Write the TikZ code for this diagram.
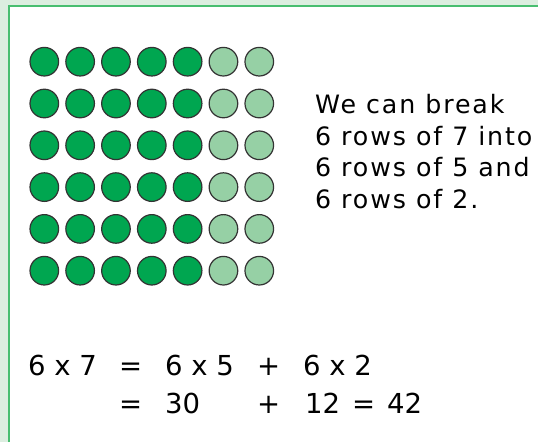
\documentclass[tikz,border=0pt]{standalone}
\usepackage{fontspec}
\setmainfont{DejaVu Sans}
\newfontfamily\paratext[LetterSpace=7.5]{DejaVu Sans}
\usetikzlibrary{positioning}
\definecolor{dotdark}{RGB}{0,166,80}
\definecolor{dotlight}{RGB}{150,208,165}
\definecolor{paneback}{RGB}{220,238,224}
\definecolor{paneline}{RGB}{72,190,112}
\begin{document}
\begin{tikzpicture}[x=1pt,y=-1pt,
 dot/.style={draw=black!80,line width=1.2pt,circle,minimum size=28.6pt,inner sep=0pt},
 full/.style={dot,fill=dotdark},
 part/.style={dot,fill=dotlight},
 txt/.style={anchor=base west,inner sep=0pt,font=\paratext\fontsize{25.3}{31.7}\selectfont},
 eq/.style={anchor=base west,inner sep=0pt,font=\fontsize{27.5}{34}\selectfont}]
\useasboundingbox (0,0) rectangle (538,442);
% Pale frame strip with the green rule along top and left.
\fill[paneback] (0,0) rectangle (538,442);
\fill[white] (9,6.5) rectangle (538,442);
\draw[paneline,line width=2pt] (8.5,442) -- (8.5,5.5) -- (538,5.5);
% Six rows of seven: five dark and two light in each row.
\foreach \r in {1,...,6}{
 \foreach \c in {1,...,7}{
  \ifnum\c<6
   \node[full] (d-\r-\c) at ({44.3+(\c-1)*35.83},{61.7+(\r-1)*41.8}) {};
  \else
   \node[part] (d-\r-\c) at ({44.3+(\c-1)*35.83},{61.7+(\r-1)*41.8}) {};
  \fi
 }
}
\node[txt] (t1) at (315,113) {We can break};
\node[txt] (t2) at (315,145) {6 rows of 7 into};
\node[txt] (t3) at (315,176.7) {6 rows of 5 and};
\node[txt] (t4) at (315,208.3) {6 rows of 2.};
% 6 x 7 = 6 x 5 + 6 x 2 = 30 + 12 = 42
\node[eq] (lhs) at (28,375) {6 x 7};
\node[eq] (eq1) at (119,375) {=};
\node[eq] (p5) at (165,375) {6 x 5};
\node[eq] (pl1) at (257,375) {+};
\node[eq] (p2) at (303,375) {6 x 2};
\node[eq] (eq2) at (119,413.3) {=};
\node[eq] (n30) at (165,413.3) {30};
\node[eq] (pl2) at (257,413.3) {+};
\node[eq] (n12) at (305,413.3) {12};
\node[eq] (eq3) at (352,413.3) {=};
\node[eq] (n42) at (387,413.3) {42};
\end{tikzpicture}
\end{document}
